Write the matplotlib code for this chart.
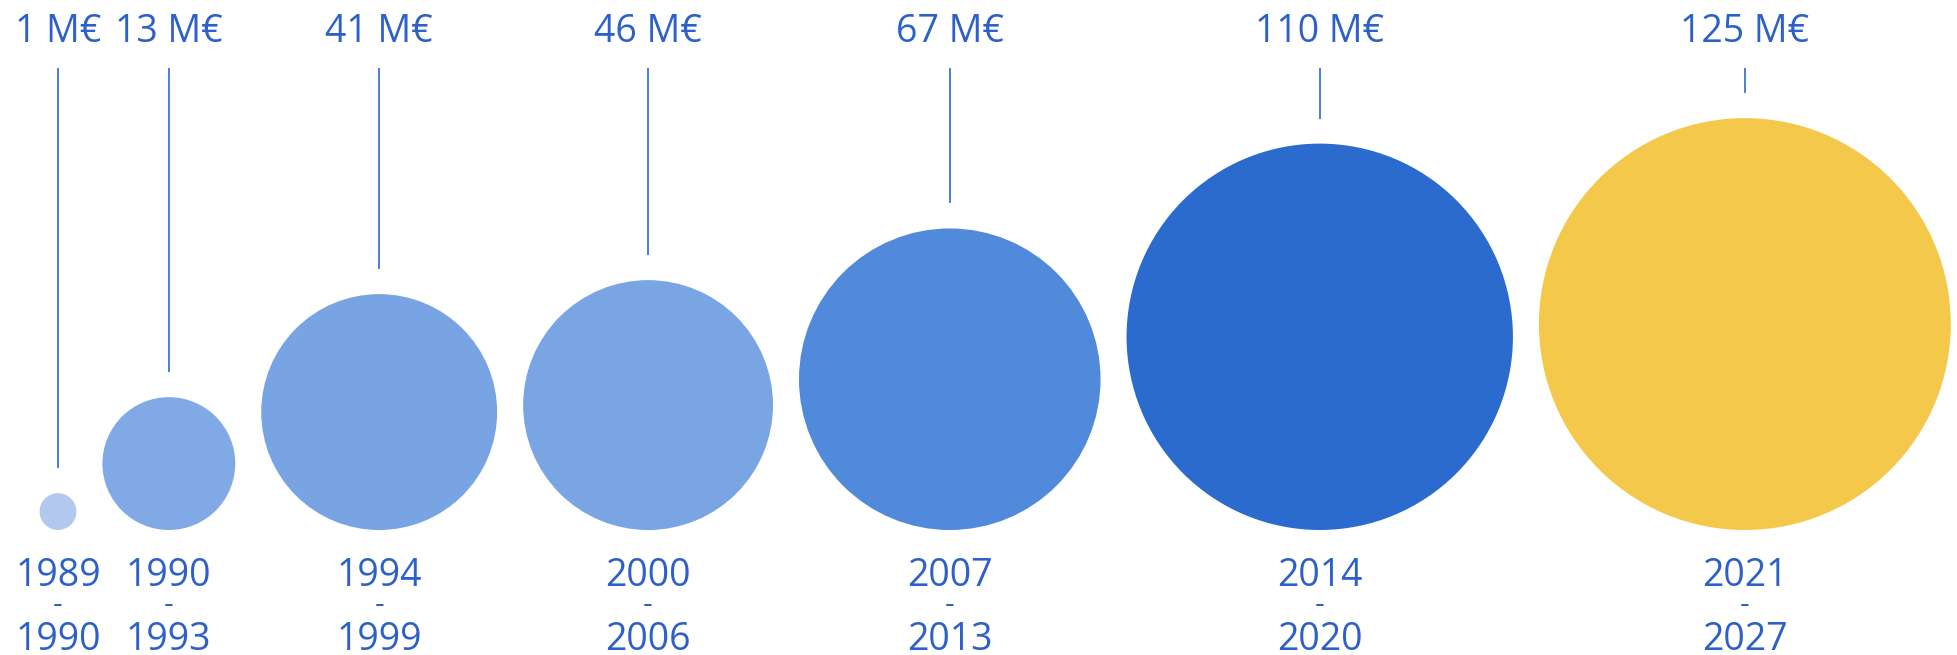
import numpy as np
import matplotlib
matplotlib.use("Agg")
import matplotlib.pyplot as plt
from matplotlib.patches import Circle

# ---- data ----
period_start = ["1989", "1990", "1994", "2000", "2007", "2014", "2021"]
period_end = ["1990", "1993", "1999", "2006", "2013", "2020", "2027"]
budget_meur = [1, 13, 41, 46, 67, 110, 125]
circle_colors = ["#b3c8ee", "#80a9e6", "#78a4e3", "#79a5e3", "#5189db", "#2b6bcd", "#f4c84b"]

# ---- style / layout ----
TEXT_COLOR = "#2d60c8"
LINE_COLOR = "#3d73d9"
FONT = ["Open Sans", "DejaVu Sans"]
W, H = 1957, 655
area_scale = 18.42          # radius = area_scale * sqrt(value)  (area ∝ value)
gap = 26                    # horizontal gap between circles
first_x = 58
baseline_y = 530            # bottom of circles
line_top = 68
line_gap = 25
value_baseline = 42
year1_baseline = 586
dash_y = 606
year2_baseline = 650
fs = 27

fig = plt.figure(figsize=(W / 100, H / 100), dpi=100)
ax = fig.add_axes([0, 0, 1, 1])
ax.set_xlim(0, W)
ax.set_ylim(H, 0)
ax.axis("off")

radii = area_scale * np.sqrt(np.array(budget_meur, dtype=float))
centers = [first_x]
for i in range(1, len(radii)):
    centers.append(centers[-1] + radii[i - 1] + gap + radii[i])

for i, (cx, r) in enumerate(zip(centers, radii)):
    cy = baseline_y - r
    ax.add_patch(Circle((cx, cy), r, facecolor=circle_colors[i], edgecolor="none"))
    ax.plot([cx, cx], [line_top, cy - r - line_gap], color=LINE_COLOR, lw=1.3,
            solid_capstyle="butt")
    ax.text(cx, value_baseline, f"{budget_meur[i]} M€", ha="center", va="baseline",
            fontsize=fs, color=TEXT_COLOR, family=FONT)
    ax.text(cx, year1_baseline, period_start[i], ha="center", va="baseline",
            fontsize=fs, color=TEXT_COLOR, family=FONT)
    ax.text(cx, dash_y, "-", ha="center", va="center",
            fontsize=fs * 0.8, color=TEXT_COLOR, family=FONT)
    ax.text(cx, year2_baseline, period_end[i], ha="center", va="baseline",
            fontsize=fs, color=TEXT_COLOR, family=FONT)

fig.savefig("out.png", dpi=100, facecolor="white")
